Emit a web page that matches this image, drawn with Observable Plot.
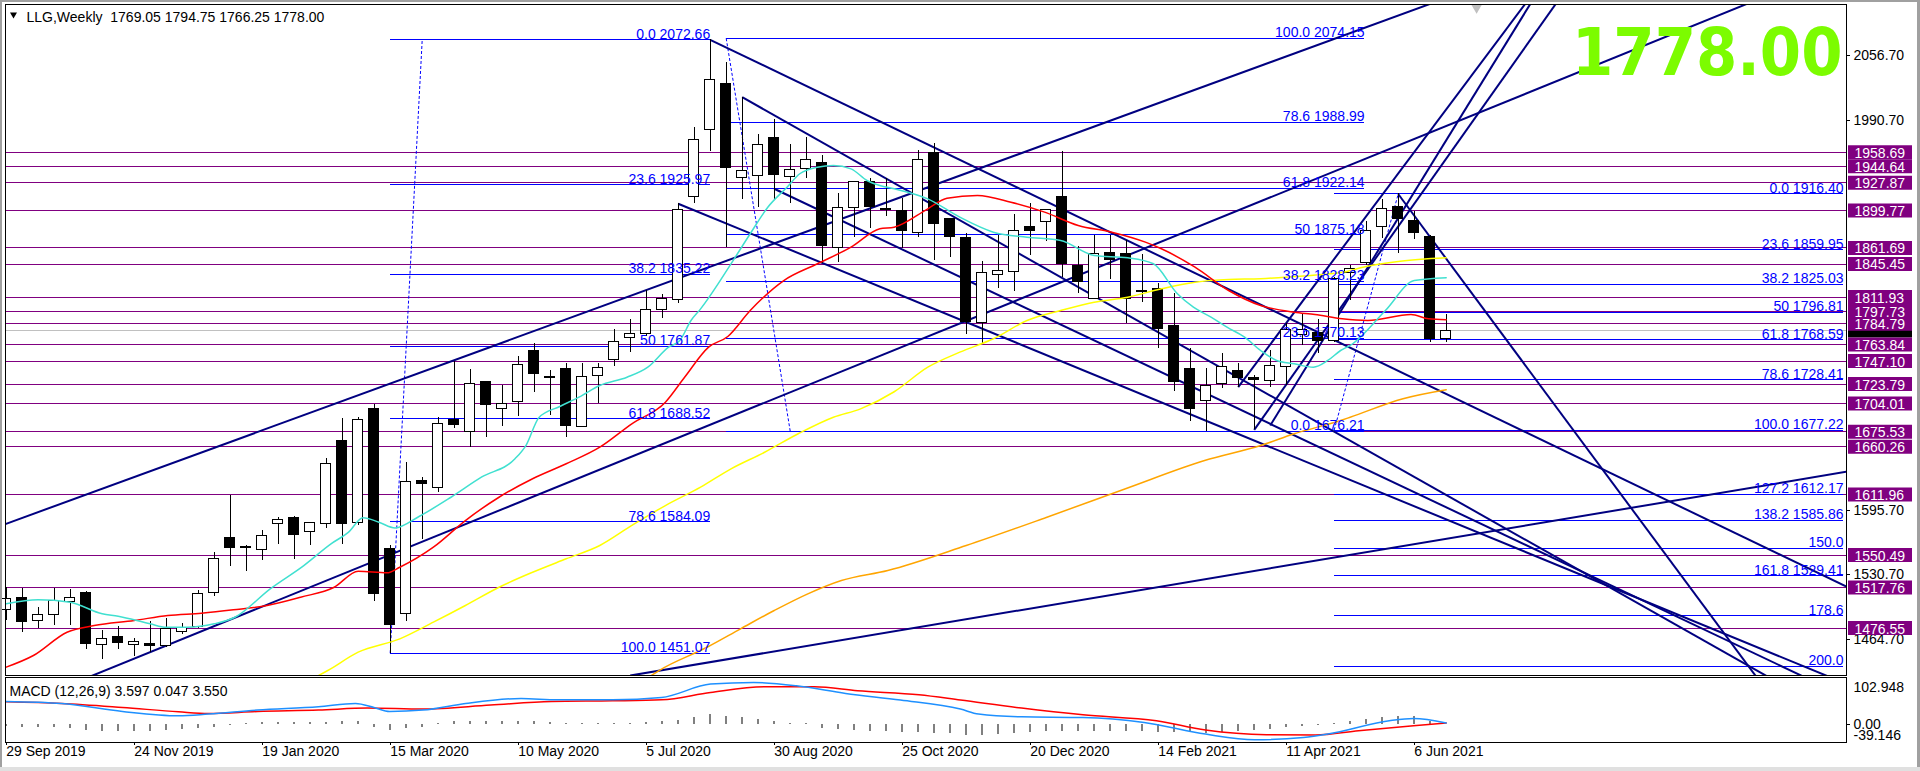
<!DOCTYPE html>
<html><head><meta charset="utf-8">
<script src="https://cdn.jsdelivr.net/npm/d3@7"></script>
<script src="https://cdn.jsdelivr.net/npm/@observablehq/plot@0.6"></script>
<style>
html,body{margin:0;padding:0;background:#fff;}
#wrap{position:relative;width:1920px;height:771px;overflow:hidden;background:#fff;}
#wrap svg{display:block;position:absolute;left:0;}
.edge{position:absolute;background:#a0a0a0;}
</style></head><body>
<div id="wrap"></div>
<script>
// ---------- DATA ----------
const header = "LLG,Weekly\u00a0\u00a01769.05 1794.75 1766.25 1778.00";
const lastPrice = 1778.00;
const candleOpen = [1495.0,1507.2,1483.9,1489.6,1502.7,1512.3,1459.6,1467.7,1459.6,1460.6,1458.5,1472.3,1477.8,1511.6,1568.0,1558.9,1555.4,1581.8,1588.3,1574.1,1582.2,1665.6,1583.5,1699.0,1556.8,1490.8,1625.8,1618.5,1687.6,1675.2,1725.4,1698.7,1705.8,1757.8,1730.6,1739.3,1680.5,1731.8,1747.7,1770.7,1774.7,1799.0,1808.5,1913.2,1981.5,2027.4,1932.8,1934.4,1972.9,1933.4,1941.9,1948.0,1861.5,1902.0,1928.4,1901.4,1899.0,1877.1,1957.7,1890.6,1872.3,1785.9,1834.5,1837.2,1882.5,1887.8,1912.9,1843.9,1810.2,1856.8,1855.8,1818.3,1819.9,1783.1,1738.6,1707.1,1724.1,1737.5,1730.1,1726.7,1740.9,1774.0,1775.3,1767.9,1836.1,1846.3,1882.8,1903.0,1889.2,1872.6,1769.05];
const candleHigh = [1517.9,1516.9,1497.1,1516.9,1515.6,1513.6,1474.0,1478.1,1465.6,1483.2,1486.2,1480.8,1514.6,1552.8,1610.9,1560.2,1575.4,1588.3,1589.6,1583.8,1648.4,1688.9,1689.6,1703.1,1560.2,1644.0,1629.4,1689.9,1746.7,1738.3,1726.4,1722.3,1751.7,1764.6,1737.5,1744.3,1744.9,1744.6,1778.8,1789.2,1818.6,1814.6,1906.5,1983.8,2072.66,2049.4,2014.5,1976.7,1991.9,1966.6,1973.7,1955.1,1916.6,1929.1,1931.8,1931.8,1911.5,1960.5,1967.3,1891.5,1876.1,1848.0,1874.3,1895.6,1906.5,1901.0,1959.8,1863.2,1874.3,1874.3,1869.3,1855.1,1826.0,1815.3,1759.5,1739.3,1754.5,1744.3,1732.5,1757.8,1784.9,1795.6,1788.9,1832.1,1843.9,1888.5,1910.5,1916.4,1898.7,1874.3,1794.75];
const candleLow = [1484.2,1472.3,1476.4,1479.4,1479.4,1455.1,1444.4,1455.1,1447.7,1452.1,1457.1,1469.7,1476.4,1508.8,1539.2,1534.1,1545.0,1561.5,1546.0,1560.5,1577.7,1561.5,1580.5,1503.7,1451.07,1483.5,1566.3,1614.2,1679.1,1659.8,1669.3,1681.1,1691.2,1715.5,1691.9,1669.9,1680.1,1703.8,1741.9,1756.1,1772.0,1789.9,1805.1,1906.5,1959.8,1862.5,1911.1,1902.4,1910.8,1906.5,1932.4,1845.7,1847.3,1872.0,1881.7,1893.9,1860.9,1872.6,1849.0,1851.7,1773.7,1763.9,1820.9,1817.9,1854.1,1868.6,1831.5,1815.9,1809.5,1829.8,1784.9,1806.8,1759.5,1716.6,1686.2,1676.21,1719.0,1720.6,1677.4,1720.0,1722.3,1762.9,1755.1,1766.2,1808.5,1843.9,1871.0,1855.8,1870.0,1766.2,1766.25];
const candleClose = [1506.2,1482.5,1490.0,1504.2,1507.2,1460.2,1465.2,1461.2,1462.6,1458.1,1475.8,1476.4,1511.2,1546.7,1557.5,1557.5,1570.0,1586.2,1570.6,1582.5,1643.0,1582.2,1686.9,1510.8,1479.4,1624.3,1622.5,1683.5,1682.1,1724.1,1702.8,1703.4,1743.3,1734.2,1729.8,1681.1,1731.2,1739.9,1766.6,1774.7,1798.8,1810.2,1900.4,1971.3,2032.1,1943.0,1939.5,1966.3,1935.9,1940.9,1951.1,1863.5,1902.4,1928.4,1903.0,1899.7,1878.7,1951.1,1886.2,1872.6,1786.5,1836.5,1838.6,1879.1,1878.7,1900.4,1845.0,1827.7,1855.1,1850.0,1809.5,1816.6,1779.1,1725.7,1698.7,1722.0,1740.9,1729.7,1728.4,1741.9,1778.1,1778.1,1767.9,1830.5,1840.6,1879.4,1901.4,1891.3,1876.7,1769.05,1778.00];

// moving averages: [week index, price]
const maCyan = [[0,1501.1],[2,1505.2],[4,1502.7],[6,1491.0],[7,1488.5],[9,1480.8],[10,1477.4],[11.3,1477.4],[13,1480.8],[14.3,1487.5],[16.5,1516.3],[18.6,1539.9],[20.3,1561.9],[21.4,1573.7],[22.3,1588.3],[23.3,1583.8],[24.3,1578.0],[25.8,1589.6],[27.8,1609.1],[29.7,1629.4],[31.8,1648.1],[32.5,1662.0],[33.3,1690.0],[34.6,1701.1],[35.8,1710.5],[37.1,1722.3],[38.8,1730.7],[40.1,1740.9],[41.4,1761.2],[42.1,1767.9],[42.8,1788.2],[43.4,1800.0],[45.5,1850.7],[46.5,1876.1],[47.6,1903.0],[48.8,1923.3],[49.6,1936.9],[50.7,1943.6],[51.7,1945.3],[52.8,1941.9],[53.8,1930.1],[54.6,1925.0],[55.5,1921.7],[57.6,1911.5],[59.6,1892.9],[61.7,1877.7],[63.8,1872.6],[65.9,1869.3],[68,1854.1],[70.1,1851.7],[71.7,1845.7],[73.2,1815.3],[74.2,1801.7],[75.3,1791.6],[76.3,1781.4],[77.4,1771.3],[78.4,1757.8],[79.4,1747.7],[80.5,1744.3],[81.7,1740.9],[82.6,1747.7],[83.4,1757.8],[84,1762.9],[86.2,1798.3],[88,1828.7],[90,1831.5]];
const maRed = [[0,1436.9],[1.7,1448.7],[3.8,1472.3],[5.5,1479.1],[8,1484.2],[10.1,1489.3],[12.2,1491.6],[14.2,1495.0],[16.3,1499.4],[18.4,1507.8],[20.5,1517.9],[22,1534.1],[23.8,1532.5],[24.6,1538.2],[26.7,1558.5],[28.7,1585.5],[30.8,1609.1],[32.9,1627.8],[35,1643.0],[37.1,1659.8],[39.1,1683.5],[41.2,1705.4],[42.4,1730.7],[43.9,1761.2],[45.1,1772.0],[46.5,1798.3],[48.6,1828.7],[50.7,1845.7],[52.8,1862.5],[54.6,1881.1],[55.5,1882.8],[57.6,1901.4],[58.8,1912.1],[60.7,1914.9],[62.8,1908.1],[64.9,1898.0],[67,1884.5],[69.1,1877.7],[71.2,1867.6],[72.2,1860.9],[74.3,1842.2],[76.4,1818.6],[78.4,1803.4],[80.5,1796.6],[81.8,1794.3],[83.5,1789.9],[85.1,1788.2],[87.8,1794.3],[88.9,1789.9],[90,1788.9]];
const maYellow = [[19,1424.0],[20.1,1433.5],[22,1452.1],[24.6,1465.6],[26.7,1482.5],[28.7,1499.4],[30.8,1517.9],[32.9,1533.1],[35,1546.7],[37.1,1560.2],[39.1,1580.5],[41.2,1600.7],[43.4,1619.3],[45.3,1637.9],[47.4,1654.7],[49.5,1673.4],[51.7,1690.2],[53.4,1698.7],[55.5,1716.0],[57.6,1740.9],[59.6,1756.1],[61.7,1769.7],[63.8,1788.2],[65.9,1798.3],[68,1806.8],[70.1,1811.8],[72.2,1820.3],[74.3,1827.0],[76.4,1829.8],[78.4,1830.5],[80.5,1832.8],[83.5,1837.0],[85,1843.0],[87,1848.0],[90,1851.7]];
const maOrange = [[40,1425.0],[40.8,1433.5],[43.8,1457.1],[45.9,1475.8],[48,1494.3],[50.1,1511.2],[52.2,1524.7],[55.1,1534.9],[60,1560.2],[65,1588.6],[70,1618.0],[74.9,1646.3],[78.4,1661.5],[80.5,1673.4],[83.4,1686.9],[84,1690.2],[87.3,1708.9],[90,1718.0]];

// horizontal levels (purple) with right-axis labels
const hLevels = [1958.69,1944.64,1927.87,1899.77,1861.69,1845.45,1811.93,1797.73,1784.79,1763.84,1747.10,1723.79,1704.01,1675.53,1660.26,1611.96,1550.49,1517.76,1476.55];
const yTicks = [2056.70,1990.70,1595.70,1530.70,1464.70];

// Fibonacci objects
const fibALevels = ["0.0","23.6","38.2","50","61.8","78.6","100.0"];
const fibAPrices = [2072.66,1925.97,1835.22,1761.87,1688.52,1584.09,1451.07];
const fibASpan = [24, 44];
const fibADiag = [24, 1451.07, 26, 2072.66];
const fibBLevels = ["100.0","78.6","61.8","50","38.2","23.6","0.0"];
const fibBPrices = [2074.15,1988.99,1922.14,1875.18,1828.23,1770.13,1676.21];
const fibBSpan = [45, 84.9];
const fibBDiag = [45, 2074.15, 49, 1676.21];
const fibCLevels = ["0.0","23.6","38.2","50","61.8","78.6","100.0","127.2","138.2","150.0","161.8","178.6","200.0"];
const fibCPrices = [1916.40,1859.95,1825.03,1796.81,1768.59,1728.41,1677.22,1612.17,1585.86,1557.63,1529.41,1489.22,1438.04];
const fibCShowPrice = [1,1,1,1,1,1,1,1,1,0,1,0,0];
const fibCSpan = [83, 114.83];
const fibCDiag = [83, 1677.22, 87, 1916.40];

// trend lines: [week1, price1, week2, price2]
const trendLines = [
  [-1, 1576.3, 95, 2144.6],
  [5, 1425.8, 110, 2117.0],
  [39, 1428.4, 116, 1637.6],
  [44, 2072.66, 116, 1510.9],
  [46, 2014.5, 116, 1373.2],
  [48, 1921.7, 116, 1399.1],
  [42, 1906.5, 116, 1413.4],
  [87, 1916.4, 116, 1282.5],
  [77, 1720.6, 99, 2197.0],
  [78, 1677.4, 99, 2158.3],
  [79, 1681.8, 99, 2207.3]
];

// MACD pane
const macdLabel = "MACD (12,26,9) 3.597 0.047 3.550";
const macdMain = [[0,50.5],[3.46,46.1],[7.27,28.6],[10.77,19.2],[12.64,23.0],[15.71,31.7],[19.52,38.9],[21.83,46.1],[22.99,37.4],[23.96,28.6],[26.05,31.7],[28.71,46.1],[32.18,57.1],[34.46,54.2],[37.89,54.2],[40.96,59.2],[44.02,88.5],[46.71,92.0],[49.39,84.8],[52.46,68.0],[55.89,53.6],[59.64,33.9],[60.77,23.0],[63.46,17.0],[67.3,15.5],[71.12,4.6],[74.96,-20.8],[78.02,-33.2],[81.08,-28.2],[82.61,-20.8],[86.44,8.3],[87.96,13.3],[90,3.597]];
const macdSignal = [[0,49.8],[3.46,46.1],[7.27,37.4],[10.77,28.0],[12.64,24.3],[15.71,28.6],[19.52,31.7],[22.58,36.1],[26.05,33.9],[30.27,42.6],[34.08,50.5],[37.89,52.0],[40.96,54.2],[44.02,70.2],[47.46,82.6],[50.52,82.6],[53.21,73.9],[57.05,65.1],[59.64,53.6],[63.46,36.1],[67.3,21.4],[71.89,8.3],[74.96,-12.0],[78.77,-22.3],[81.83,-23.0],[84.52,-13.6],[87.96,-2.6],[90,3.55]];
const macdHist = [-4.4,-5.8,-5.8,-7.3,-8.7,-12.4,-14.6,-14.6,-14.6,-14.6,-13.1,-11.7,-8.7,-5.8,-2.2,2.2,3.6,3.6,3.6,3.6,5.1,5.8,7.3,-5.8,-13.1,-8.7,-5.8,2.9,5.8,7.3,7.3,7.3,7.3,5.8,3.6,2.2,1.5,1.5,1.5,2.2,3.6,5.8,8.7,14.6,21.9,18.2,14.6,10.9,7.3,2.9,1.5,-8.7,-10.9,-13.1,-14.6,-16.0,-18.2,-18.2,-19.7,-19.7,-23.3,-23.3,-21.9,-20.4,-18.2,-14.6,-14.6,-14.6,-14.6,-16.0,-16.0,-16.0,-18.2,-18.2,-18.2,-20.4,-18.2,-16.0,-13.1,-10.9,-7.3,-3.6,-1.5,2.2,7.3,10.9,14.6,16.8,16.8,7.3,0.047];
const macdMax = 102.948, macdMin = -39.146;

// time axis
const timeTickWeeks = [0,8,16,24,32,40,48,56,64,72,80,88];
const timeTickLabels = ["29 Sep 2019","24 Nov 2019","19 Jan 2020","15 Mar 2020","10 May 2020","5 Jul 2020","30 Aug 2020","25 Oct 2020","20 Dec 2020","14 Feb 2021","11 Apr 2021","6 Jun 2021"];

// ---------- LAYOUT ----------
const FONT = "Liberation Sans, Arial, sans-serif";
const FS = 14;
const X_DOMAIN = [-0.04375, 115.01875];
const XR = X_DOMAIN[1];
const PX = 1/16; // one pixel in week units
const Y_DOMAIN = [1428.46, 2108.43];
const MACD_H = 65; // frame height in px
const MPX = (macdMax - macdMin) / MACD_H; // one pixel in MACD units

const candles = candleOpen.map((o, i) => ({i, o, h: candleHigh[i], l: candleLow[i], c: candleClose[i]}));
const upC = candles.filter(d => d.c >= d.o);
const dnC = candles.filter(d => d.c < d.o);

const fibRows = [];
function addFib(levels, prices, show, span) {
  levels.forEach((lv, k) => fibRows.push({a: span[0], b: span[1], p: prices[k], label: show[k] ? lv + " " + prices[k].toFixed(2) : lv}));
}
addFib(fibALevels, fibAPrices, fibALevels.map(() => 1), fibASpan);
addFib(fibBLevels, fibBPrices, fibBLevels.map(() => 1), fibBSpan);
addFib(fibCLevels, fibCPrices, fibCShowPrice, fibCSpan);
const fibDiags = [fibADiag, fibBDiag, fibCDiag];

const tl = trendLines.map(([a, b, c, d]) => ({x1: a, y1: b, x2: c, y2: d}));
const fd = fibDiags.map(([a, b, c, d]) => ({x1: a, y1: b, x2: c, y2: d}));
const hist = macdHist.map((v, i) => ({i, v}));
const timeTicks = timeTickWeeks.map((w, k) => ({i: w, label: timeTickLabels[k]}));

const main = Plot.plot({
  width: 1920, height: 676,
  marginLeft: 5, marginRight: 74, marginTop: 4, marginBottom: 1,
  x: {domain: X_DOMAIN, axis: null},
  y: {domain: Y_DOMAIN, axis: null},
  style: {background: "transparent", fontFamily: FONT, fontSize: FS + "px", overflow: "visible"},
  marks: [
    Plot.ruleY([lastPrice], {stroke: "#c0c0c0", shapeRendering: "crispEdges"}),
    Plot.ruleY(hLevels, {stroke: "#800080", shapeRendering: "crispEdges"}),
    Plot.ruleY(fibRows, {y: "p", x1: "a", x2: "b", stroke: "#0000ff", shapeRendering: "crispEdges"}),
    Plot.link(fd, {x1: "x1", y1: "y1", x2: "x2", y2: "y2", stroke: "#0000ff", strokeDasharray: "3,2"}),
    Plot.link(tl, {x1: "x1", y1: "y1", x2: "x2", y2: "y2", stroke: "#000080", strokeWidth: 2, clip: true}),
    Plot.ruleX(candles, {x: "i", y1: "l", y2: "h", stroke: "black", shapeRendering: "crispEdges"}),
    Plot.rect(upC, {x1: d => d.i - 0.32, x2: d => d.i + 0.32, y1: "o", y2: "c", fill: "white", stroke: "black", shapeRendering: "crispEdges"}),
    Plot.rect(dnC, {x1: d => d.i - 0.32, x2: d => d.i + 0.32, y1: "c", y2: "o", fill: "black", stroke: "black", shapeRendering: "crispEdges"}),
    Plot.line(maOrange, {x: d => d[0], y: d => d[1], stroke: "#ffa500", curve: "monotone-x", clip: true}),
    Plot.line(maYellow, {x: d => d[0], y: d => d[1], stroke: "#ffff00", curve: "monotone-x", clip: true}),
    Plot.line(maRed, {x: d => d[0], y: d => d[1], stroke: "#ff0000", curve: "monotone-x", clip: true}),
    Plot.line(maCyan, {x: d => d[0], y: d => d[1], stroke: "#40e0d0", curve: "monotone-x", clip: true}),
    Plot.text(fibRows, {x: "b", y: "p", text: "label", textAnchor: "end", lineAnchor: "bottom", dy: -1, fill: "#0000ff", fontSize: FS}),
    Plot.text(["1778.00"], {frameAnchor: "top-right", dx: -4, dy: 24, lineAnchor: "top", textAnchor: "end", fontSize: 66, fontWeight: "bold", fill: "#7cfc00", fontFamily: "DejaVu Sans Condensed, Liberation Sans, sans-serif"}),
    Plot.dot([0], {frameAnchor: "top-left", dx: 8, dy: 10, symbol: "triangle", rotate: 180, r: 2.6, fill: "black", stroke: "none"}),
    Plot.text([header], {frameAnchor: "top-left", dx: 21, dy: 8, lineAnchor: "top", textAnchor: "start", fontSize: FS, fill: "black"}),
    Plot.dot([0], {x: 91.9, frameAnchor: "top", dy: 3, symbol: "triangle", rotate: 180, r: 4, fill: "#c0c0c0", stroke: "none"}),
    Plot.frame({stroke: "black", shapeRendering: "crispEdges"}),
    Plot.ruleY(yTicks, {x1: XR, x2: XR + 4 * PX, stroke: "black", shapeRendering: "crispEdges"}),
    Plot.text(yTicks, {x: XR + 7 * PX, y: d => d, text: d => d.toFixed(2), textAnchor: "start", fill: "black", fontSize: FS}),
    Plot.ruleY([lastPrice], {x1: XR + 2 * PX, x2: XR + 66 * PX, stroke: "black", strokeWidth: 14}),
    Plot.ruleY(hLevels, {x1: XR + 2 * PX, x2: XR + 66 * PX, stroke: "#800080", strokeWidth: 14}),
    Plot.text(hLevels, {x: XR + 8 * PX, y: d => d, text: d => d.toFixed(2), textAnchor: "start", fill: "white", fontSize: FS, dy: 1})
  ]
});
main.style.top = "0px";

const macd = Plot.plot({
  width: 1920, height: 95,
  marginLeft: 5, marginRight: 74, marginTop: 1, marginBottom: 29,
  x: {domain: X_DOMAIN, axis: null},
  y: {type: "linear", domain: [macdMin, macdMax], axis: null},
  style: {background: "transparent", fontFamily: FONT, fontSize: FS + "px", overflow: "visible"},
  marks: [
    Plot.ruleX(hist, {x: "i", y1: 0, y2: "v", stroke: "#808080", strokeWidth: 2, shapeRendering: "crispEdges"}),
    Plot.line(macdSignal, {x: d => d[0], y: d => d[1], stroke: "#ff0000", curve: "monotone-x"}),
    Plot.line(macdMain, {x: d => d[0], y: d => d[1], stroke: "#1e90ff", curve: "monotone-x"}),
    Plot.text([macdLabel], {frameAnchor: "top-left", dx: 4, dy: 9, lineAnchor: "top", textAnchor: "start", fontSize: FS, fill: "black"}),
    Plot.frame({stroke: "black", shapeRendering: "crispEdges"}),
    Plot.ruleY([0], {x1: XR, x2: XR + 4 * PX, stroke: "black", shapeRendering: "crispEdges"}),
    Plot.text(["102.948"], {frameAnchor: "top-right", dx: 7, dy: 5, lineAnchor: "top", textAnchor: "start", fill: "black", fontSize: FS}),
    Plot.text(["-39.146"], {frameAnchor: "bottom-right", dx: 7, dy: -3, lineAnchor: "bottom", textAnchor: "start", fill: "black", fontSize: FS}),
    Plot.text([0], {x: XR + 7 * PX, y: d => d, text: () => "0.00", textAnchor: "start", fill: "black", fontSize: FS}),
    Plot.ruleX(timeTicks, {x: "i", y1: macdMin, y2: macdMin - 3 * MPX, stroke: "black", shapeRendering: "crispEdges"}),
    Plot.text(timeTicks, {x: "i", text: "label", frameAnchor: "bottom", dy: 13, textAnchor: "start", fill: "black", fontSize: FS})
  ]
});
macd.style.top = "676px";

const wrap = document.getElementById("wrap");
wrap.appendChild(main);
wrap.appendChild(macd);
[["0px","0px","1920px","2px"],["0px","0px","2px","771px"],["1917px","0px","3px","771px"],["0px","767px","1920px","4px"]].forEach(([l,t,w,h]) => {
  const e = document.createElement("div"); e.className = "edge";
  e.style.left = l; e.style.top = t; e.style.width = w; e.style.height = h;
  if (t === "767px") e.style.background = "#e0e0e0";
  wrap.appendChild(e);
});
</script></body></html>
